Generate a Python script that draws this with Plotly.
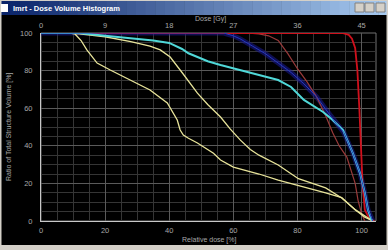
import plotly.graph_objects as go

# ---- data (relative dose %, volume %) ----
red_x = [0, 94, 96, 97, 98, 98.7, 99.3, 99.8, 100.3, 101, 102.5, 104]
red_y = [100, 100, 99, 97, 92, 80, 60, 40, 20, 6, 1, 0]

brown_x = [0, 64, 68, 71, 74, 77, 80, 83, 86, 88.8, 91, 93, 95.4, 98, 98.9, 100, 101]
brown_y = [100, 100, 99.5, 98.5, 96, 89, 81, 74, 66, 56, 47, 40, 34, 20, 11, 4, 0]

blue_x = [0, 57, 60, 62, 66, 70, 74, 78, 82, 86, 89, 92, 94.5, 97.3, 99.5, 101, 102, 103.5]
blue_y = [100, 100, 98.5, 97, 93, 89, 84, 79, 73, 66, 59, 52, 47, 36, 25.5, 15, 6, 0]

cyan_x = [0, 12, 20, 28, 35, 40, 42, 44, 46, 48.8, 52, 56, 62, 68, 74, 78, 82, 88, 91, 94.2, 97.3, 99.5, 101, 102, 103, 103.5]
cyan_y = [100, 100, 98.5, 97.2, 96, 94.7, 93.3, 91.5, 89.2, 87.2, 85, 83, 80.5, 77.7, 75, 71.3, 64.4, 58, 53.7, 48.4, 36, 25.5, 15, 6, 1, 0]

yel1_x = [0, 8, 12, 20, 28, 34, 37.2, 40.3, 44, 48.8, 52, 56, 59, 62.2, 65.3, 68, 74, 80.3, 88.8, 93.8, 98.1, 101, 103]
yel1_y = [100, 100, 99.5, 98, 95.4, 93, 91, 87.2, 79, 68, 62, 55.3, 49, 43, 38, 35, 29.8, 22.5, 17.6, 12.2, 5.9, 2.5, 0.5]

yel2_x = [0, 9, 10.6, 12.5, 14.3, 17.5, 21.6, 27.8, 34, 39.4, 41.5, 42.5, 43.4, 44.4, 46, 48.8, 53.8, 56, 60, 68, 74, 80.3, 88.8, 93.8, 98, 101, 103]
yel2_y = [100, 100, 99.5, 96, 91, 84, 80.3, 75, 69.7, 62.8, 57, 53.7, 48.4, 45.7, 44, 41.5, 36, 32.4, 28.7, 25, 21.8, 19, 14.9, 12.5, 6, 2, 0.5]

rel_ticks = [0, 20, 40, 60, 80, 100]
gy_ticks = [0, 9, 18, 27, 36, 45]
vol_ticks = [0, 20, 40, 60, 80, 100]
prescription_gy = 45.0
x_max = 104.5

W, H = 388, 250
L, R, T, B = 41, 12, 33, 29

fig = go.Figure()
series = [
    (blue_x, blue_y, "rgba(25,25,150,0.55)", 5),
    (brown_x, brown_y, "#9a3a3a", 1.2),
    (red_x, red_y, "#d0101c", 1.8),
    (yel2_x, yel2_y, "#e8e49a", 1.3),
    (yel1_x, yel1_y, "#e8e49a", 1.3),
    (cyan_x, cyan_y, "#50d8d8", 2.0),
    (blue_x, blue_y, "#2538c0", 1.0),
]
for xs, ys, c, w in series:
    fig.add_trace(go.Scatter(x=xs, y=ys, mode="lines", line=dict(color=c, width=w),
                             hoverinfo="skip", showlegend=False))

# invisible trace on top (Gy) axis
fig.add_trace(go.Scatter(x=[0, prescription_gy], y=[0, 0], xaxis="x2", mode="lines",
                         line=dict(width=0), opacity=0, showlegend=False, hoverinfo="skip"))

font = dict(family="Liberation Sans, Arial, sans-serif", size=7.5, color="#a8a8a8")
font_small = dict(family="Liberation Sans, Arial, sans-serif", size=7, color="#a8a8a8")

fig.update_layout(
    width=W, height=H,
    margin=dict(l=L, r=R, t=T, b=B, pad=0),
    paper_bgcolor="#000000", plot_bgcolor="#000000",
    font=font,
    xaxis=dict(range=[0, x_max], tickvals=rel_ticks, showgrid=True, gridcolor="#5a5a5a",
               gridwidth=1, zeroline=False, showline=True, linecolor="#c8c8c8", linewidth=1,
               ticks="", ticklabelstandoff=2, tickfont=font,
               minor=dict(dtick=5, tick0=0, showgrid=True, gridcolor="#353535", gridwidth=1)),
    xaxis2=dict(range=[0, x_max * prescription_gy / 100], tickvals=gy_ticks, overlaying="x",
                side="top", anchor="y", showgrid=False, zeroline=False, showline=False,
                ticks="", ticklabelstandoff=3, tickfont=font),
    yaxis=dict(range=[0, 100], tickvals=vol_ticks, showgrid=True, gridcolor="#5a5a5a",
               zeroline=False, showline=True, linecolor="#c8c8c8", linewidth=1,
               ticks="", ticklabelstandoff=6, tickfont=font,
               minor=dict(dtick=5, tick0=0, showgrid=True, gridcolor="#353535", gridwidth=1)),
)

pw, ph = W - L - R, H - T - B
def px(xp):
    return (xp - L) / pw
def py(yp):
    return (H - B - yp) / ph

shapes = []
shapes.append(dict(type="rect", xref="paper", yref="paper", x0=0, x1=1, y0=0, y1=1,
                   line=dict(color="#707070", width=1), layer="below"))
# window title bar gradient
n = 40
c0 = (10, 36, 106)
c1 = (166, 202, 240)
for i in range(n):
    t = i / (n - 1)
    col = "rgb(%d,%d,%d)" % tuple(int(c0[k] + (c1[k] - c0[k]) * t) for k in range(3))
    shapes.append(dict(type="rect", xref="paper", yref="paper",
                       x0=px(W * i / n), x1=px(W * (i + 1) / n + 0.5), y0=py(15), y1=py(1),
                       fillcolor=col, line=dict(width=0), layer="above"))
shapes.append(dict(type="rect", xref="paper", yref="paper", x0=px(0), x1=px(W), y0=py(1), y1=py(0),
                   fillcolor="#d4d0c8", line=dict(width=0)))
shapes.append(dict(type="rect", xref="paper", yref="paper", x0=px(0), x1=px(W), y0=py(H), y1=py(245),
                   fillcolor="#d4d0c8", line=dict(width=0)))
shapes.append(dict(type="rect", xref="paper", yref="paper", x0=px(0), x1=px(1.5), y0=py(H), y1=py(0),
                   fillcolor="#d4d0c8", line=dict(width=0)))
shapes.append(dict(type="rect", xref="paper", yref="paper", x0=px(W - 1.5), x1=px(W), y0=py(H), y1=py(0),
                   fillcolor="#d4d0c8", line=dict(width=0)))
shapes.append(dict(type="rect", xref="paper", yref="paper", x0=px(1), x1=px(8), y0=py(12), y1=py(4),
                   fillcolor="#ffffff", line=dict(width=0)))
for bx in [355, 365, 376]:
    shapes.append(dict(type="rect", xref="paper", yref="paper", x0=px(bx), x1=px(bx + 9),
                       y0=py(12), y1=py(3), fillcolor="#d4d0c8",
                       line=dict(color="#808080", width=1)))
fig.update_layout(shapes=shapes)

ann = [
    dict(text="<b>Imrt - Dose Volume Histogram</b>", x=px(11), y=py(8.5), xanchor="left",
         yanchor="middle", font=dict(family="Liberation Sans, Arial", size=7.5, color="#ffffff")),
    dict(text="Dose [Gy]", x=px(210), y=py(19), xanchor="center", yanchor="middle", font=font_small),
    dict(text="Relative dose [%]", x=px(209), y=py(240), xanchor="center", yanchor="middle", font=font_small),
    dict(text="Ratio of Total Structure Volume [%]", x=px(9), y=py(127), xanchor="center",
         yanchor="middle", textangle=-90, font=font_small),
]
for a in ann:
    a.update(xref="paper", yref="paper", showarrow=False)
fig.update_layout(annotations=ann)

fig.write_html("out.html")
